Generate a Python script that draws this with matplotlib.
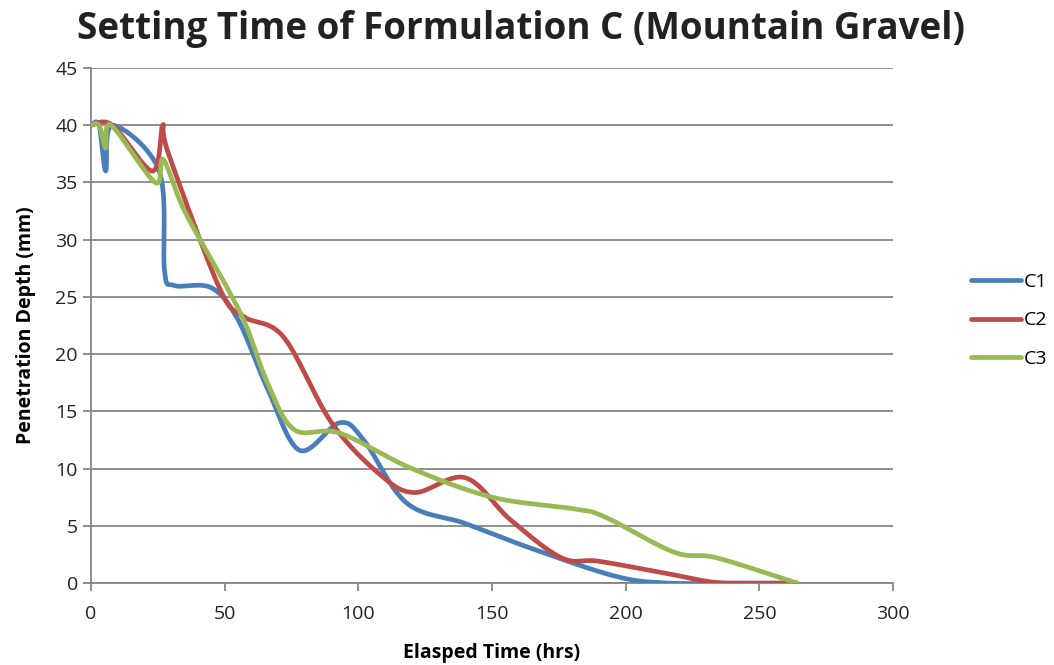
import matplotlib
matplotlib.use("Agg")
import matplotlib.pyplot as plt
import numpy as np

# data (hours, mm)
c1_t = [0, 3, 5.5, 8, 25.5, 27.5, 31, 45, 55, 66, 78, 93, 102, 118, 140, 165, 196, 215, 240, 264]
c1_d = [40, 40, 36, 40, 36, 27.3, 26, 25.8, 23, 17, 11.6, 14, 12.5, 7, 5.2, 3, 0.6, 0, 0, 0]

c2_t = [0, 8, 23, 26.8, 29, 48, 57, 72, 90, 108, 121, 140, 157, 176, 190, 215, 236, 264]
c2_d = [40, 40, 36, 40, 37.5, 25.8, 23.3, 21.5, 14, 9.5, 7.9, 9.2, 5.5, 2.2, 1.9, 0.85, 0, 0]

c3_t = [0, 3, 5.5, 7.5, 24, 27, 35, 50, 58, 66, 76, 93, 120, 150, 180, 192, 218, 234, 264]
c3_d = [40, 40, 38, 40, 35, 37, 32.5, 26.2, 22.5, 17.5, 13.4, 13.1, 10, 7.5, 6.5, 5.8, 2.7, 2.2, 0]

names = ["C1", "C2", "C3"]
colors = ["#4A7EBB", "#BE4B48", "#98B954"]


def smooth(xs, ys, n=30):
    # excel style smoothed line (bezier through the points)
    p = np.column_stack([xs, ys]).astype(float)
    out = []
    for i in range(len(p) - 1):
        p0 = p[i - 1] if i > 0 else p[i]
        p1 = p[i]
        p2 = p[i + 1]
        p3 = p[i + 2] if i + 2 < len(p) else p[i + 1]
        c1 = p1 + (p2 - p0) / 6.0
        c2 = p2 - (p3 - p1) / 6.0
        t = np.linspace(0, 1, n)[:, None]
        seg = (1 - t) ** 3 * p1 + 3 * (1 - t) ** 2 * t * c1 + 3 * (1 - t) * t ** 2 * c2 + t ** 3 * p2
        out.append(seg if i == 0 else seg[1:])
    s = np.vstack(out)
    return s[:, 0], s[:, 1]


plt.rcParams["font.family"] = ["Open Sans", "DejaVu Sans"]
fig = plt.figure(figsize=(10.54, 6.65), dpi=100)
ax = fig.add_axes([91 / 1054, 1 - 583 / 665, (893 - 91) / 1054, (583 - 68) / 665])

for t, d, name, col in zip([c1_t, c2_t, c3_t], [c1_d, c2_d, c3_d], names, colors):
    sx, sy = smooth(t, d)
    ax.plot(sx, sy, color=col, lw=3.4, label=name, solid_capstyle="round", zorder=3)

ax.set_xlim(0, 300)
ax.set_ylim(0, 45)
ax.set_xticks(range(0, 301, 50))
ax.set_yticks(range(0, 46, 5))
ax.yaxis.grid(True, color="#868686", lw=1.3)
ax.set_axisbelow(True)
for s in ["top", "right"]:
    ax.spines[s].set_visible(False)
for s in ["left", "bottom"]:
    ax.spines[s].set_color("#868686")
    ax.spines[s].set_linewidth(1.3)
ax.tick_params(colors="#868686", width=1.3, length=6, labelcolor="#222222", labelsize=14)
ax.tick_params(axis="x", pad=10)

ax.set_xlabel("Elasped Time (hrs)", fontsize=14, fontweight="bold", labelpad=14)
ax.set_ylabel("Penetration Depth (mm)", fontsize=14, fontweight="bold", labelpad=14)
fig.text(0.494, 0.957, "Setting Time of Formulation C (Mountain Gravel)", ha="center", va="center",
         fontsize=26.5, fontweight="bold", color="#222222")

ax.legend(loc="center left", bbox_to_anchor=(1.075, 0.51), frameon=False, fontsize=14,
          handlelength=2.6, handletextpad=0.15, labelspacing=1.05)

fig.savefig("out.png", dpi=100)
